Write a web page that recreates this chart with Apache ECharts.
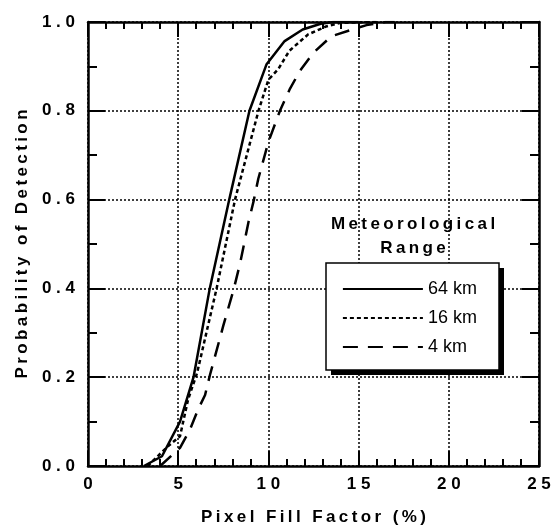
<!DOCTYPE html>
<html>
<head>
<meta charset="utf-8">
<script src="https://cdn.jsdelivr.net/npm/echarts@6/dist/echarts.min.js"></script>
<style>
html, body { margin: 0; padding: 0; background: #fff; }
#chart { width: 554px; height: 531px; }
</style>
</head>
<body>
<div id="chart"></div>
<script>
// readings: pixel fill factor (%) vs probability of detection
var fill64 = [3.1, 4.1, 5.1, 5.85, 6.75, 7.83, 8.95, 9.9, 10.9, 11.9, 12.9, 13.6, 15];
var pd64   = [0, 0.022, 0.1, 0.2, 0.4, 0.6, 0.8, 0.905, 0.957, 0.983, 0.996, 1.0, 1.0];

var fill16 = [3.3, 4.45, 5.1, 5.55, 6.05, 7.13, 8.15, 9.45, 10.0, 10.55, 11.16, 12.2, 13.2, 14.0, 16];
var pd16   = [0, 0.045, 0.067, 0.15, 0.21, 0.4, 0.6, 0.8, 0.87, 0.894, 0.935, 0.972, 0.99, 0.998, 1.0];

var fill4 = [4.0, 5.1, 5.65, 6.1, 6.49, 6.76, 7.5, 8.09, 8.45, 8.9, 9.2, 9.44, 10.0, 10.64, 11.2, 11.75, 12.5, 13.5, 14.5, 15.44, 16.5, 17];
var pd4   = [0, 0.041, 0.082, 0.127, 0.16, 0.205, 0.316, 0.4, 0.46, 0.55, 0.6, 0.647, 0.73, 0.8, 0.85, 0.89, 0.931, 0.968, 0.981, 0.993, 1.0, 1.0];

var rangeNames = ['64 km', '16 km', '4 km'];
var legendTitle = ['Meteorological', 'Range'];
var xName = 'Pixel Fill Factor (%)';
var yName = 'Probability of Detection';

function zip(xs, ys) {
  return xs.map(function (x, i) { return [x, ys[i]]; });
}
// the figure uses letter-spaced type
function spaced(s, sep) {
  return s.split('').join(sep);
}

var font = 'Liberation Sans, Arial, sans-serif';
var black = '#000';

function xAxisCfg(pos, main) {
  return {
    type: 'value', position: pos, min: 0, max: 25, interval: 5,
    axisLine: { show: true, onZero: false, lineStyle: { color: black, width: 2.5 } },
    axisTick: { show: true, inside: true, length: 15, lineStyle: { color: black, width: 2 } },
    minorTick: { show: true, splitNumber: 5, length: 7, lineStyle: { color: black, width: 2 } },
    splitLine: { show: main, lineStyle: { type: [2, 2], color: black, width: 1.5 } },
    axisLabel: {
      show: main, margin: 10, color: black, fontFamily: font, fontWeight: 'bold', fontSize: 17,
      formatter: function (v) { return spaced(String(v), ' '); }
    },
    name: main ? spaced(xName, '\u2009') : '',
    nameLocation: 'middle', nameGap: 43,
    nameTextStyle: { color: black, fontFamily: font, fontWeight: 'bold', fontSize: 17 }
  };
}

function yAxisCfg(pos, main) {
  return {
    type: 'value', position: pos, min: 0, max: 1, interval: 0.2,
    axisLine: { show: true, onZero: false, lineStyle: { color: black, width: 2.5 } },
    axisTick: { show: true, inside: true, length: 17, lineStyle: { color: black, width: 2 } },
    minorTick: { show: true, splitNumber: 2, length: 9, lineStyle: { color: black, width: 2 } },
    splitLine: { show: main, lineStyle: { type: [2, 2], color: black, width: 1.5 } },
    axisLabel: {
      show: main, margin: 13, color: black, fontFamily: font, fontWeight: 'bold', fontSize: 17,
      formatter: function (v) { return spaced(v.toFixed(1), ' '); }
    },
    name: main ? spaced(yName, '\u2009') : '',
    nameLocation: 'middle', nameGap: 54,
    nameTextStyle: { color: black, fontFamily: font, fontWeight: 'bold', fontSize: 17 }
  };
}

function lineSeries(name, xs, ys, dash) {
  return {
    type: 'line', name: name, data: zip(xs, ys),
    showSymbol: false, symbol: 'none',
    lineStyle: { color: black, width: 2.5, type: dash },
    itemStyle: { color: black },
    z: 3
  };
}

var myChart = echarts.init(document.getElementById('chart'));
var option = {
  animation: false,
  backgroundColor: '#fff',
  grid: { left: 88, right: 15, top: 22, bottom: 61 },
  xAxis: [xAxisCfg('bottom', true), xAxisCfg('top', false)],
  yAxis: [yAxisCfg('left', true), yAxisCfg('right', false)],
  legend: {
    data: rangeNames,
    orient: 'vertical',
    left: 342, top: 280,
    itemWidth: 80, itemHeight: 14, itemGap: 11,
    padding: 0,
    lineStyle: { width: 1.8 },
    itemStyle: { opacity: 0, borderWidth: 0 },
    selectedMode: false,
    textStyle: { color: black, fontFamily: font, fontSize: 18 },
    z: 12
  },
  graphic: [
    { // drop shadow of the legend box
      type: 'rect', z: 10, shape: { x: 331, y: 268, width: 173, height: 107 },
      style: { fill: black }
    },
    {
      type: 'rect', z: 11, shape: { x: 326, y: 263, width: 173, height: 107 },
      style: { fill: '#fff', stroke: black, lineWidth: 1.5 }
    },
    {
      type: 'text', x: 413, y: 212, z: 11,
      style: {
        text: legendTitle.map(function (t) { return spaced(t, '\u2009'); }).join('\n'),
        fill: black, font: 'bold 17px ' + font,
        textAlign: 'center', align: 'center',
        textVerticalAlign: 'top', verticalAlign: 'top',
        lineHeight: 24
      }
    }
  ],
  series: [
    lineSeries(rangeNames[0], fill64, pd64, 'solid'),
    lineSeries(rangeNames[1], fill16, pd16, [4, 3]),
    lineSeries(rangeNames[2], fill4, pd4, [15, 10])
  ]
};
myChart.setOption(option);
</script>
</body>
</html>
